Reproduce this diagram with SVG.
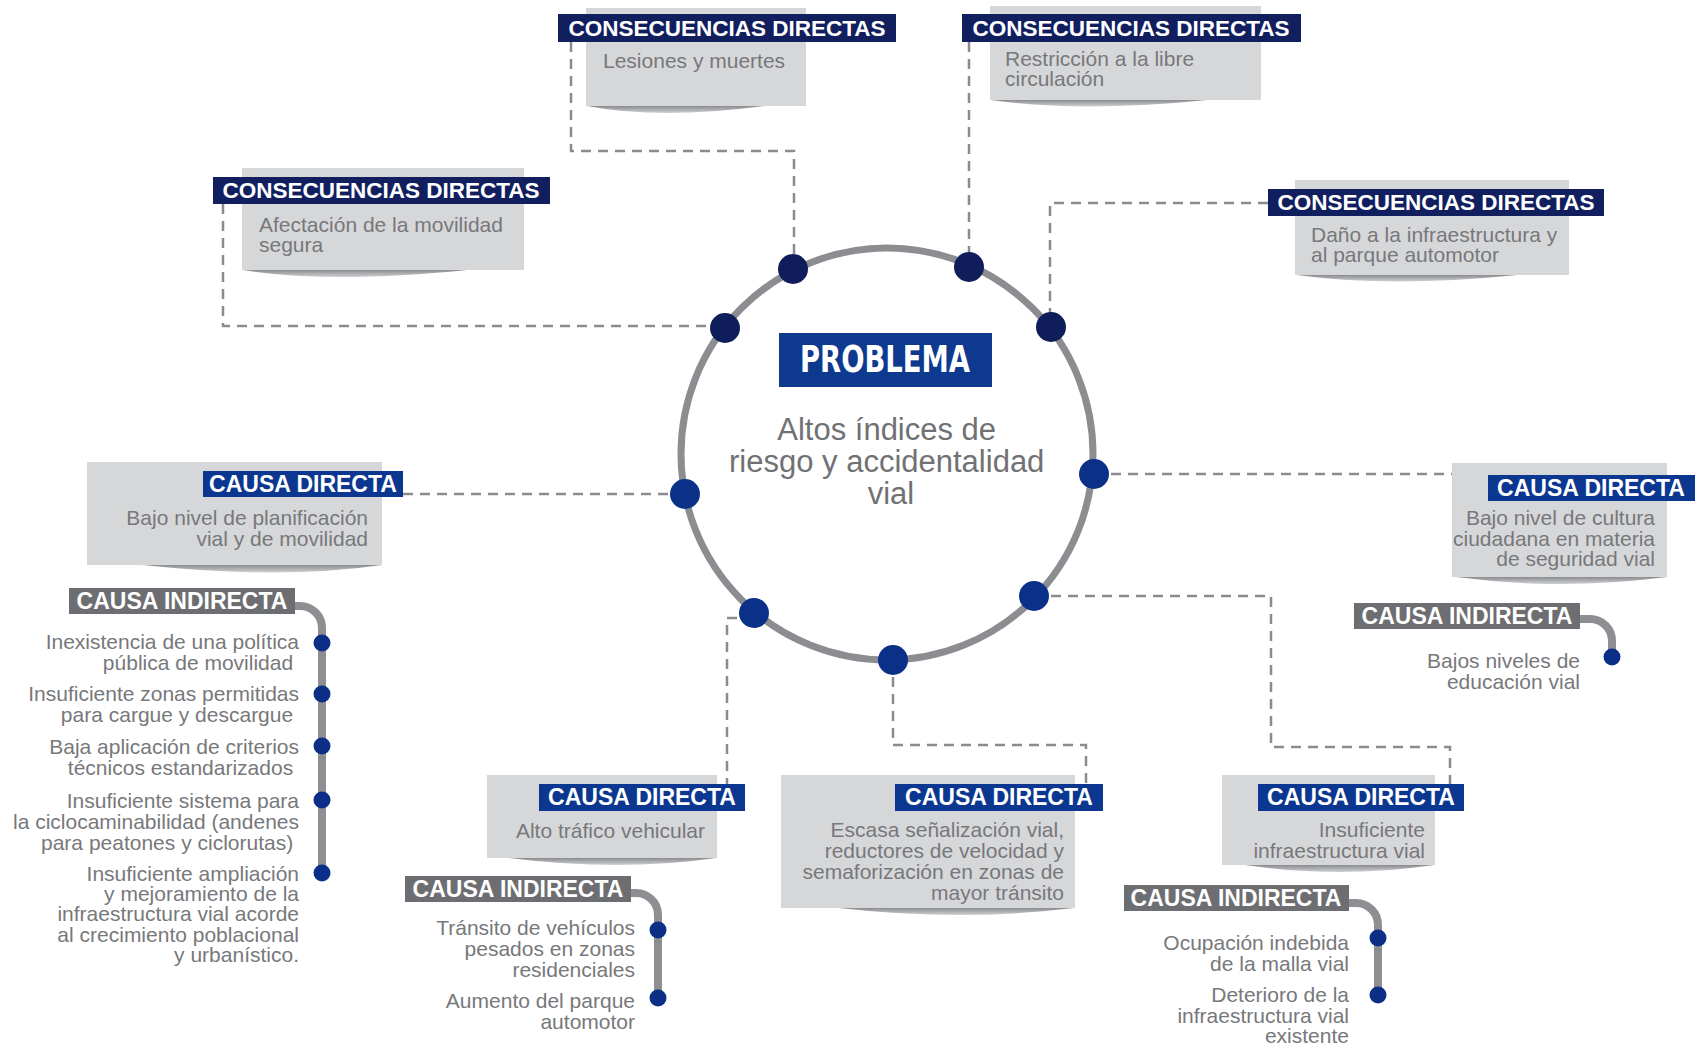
<svg xmlns="http://www.w3.org/2000/svg" width="1697" height="1045" viewBox="0 0 1697 1045">
<defs>
<linearGradient id="sh" x1="0" y1="0" x2="0" y2="1"><stop offset="0" stop-color="#8b8c8f"/><stop offset="1" stop-color="#cfd0d2"/></linearGradient>
<style>
.box{fill:#d6d7d9}
.shd{fill:url(#sh)}
.ln{fill:#121f5f}
.lb{fill:#0b3790}
.lg{fill:#6d6e71}
.lt{font-family:"Liberation Sans",Arial,sans-serif;font-weight:bold;font-size:23px;fill:#fff;text-anchor:middle}
.lc{font-size:22.5px}
.bt{font-family:"Liberation Sans",Arial,sans-serif;font-size:21px;fill:#77787b}
.r{text-anchor:end}
.conn{fill:none;stroke:#8a8b8e;stroke-width:2.5;stroke-dasharray:10 7}
.rail{fill:none;stroke:#8e8f92;stroke-width:8}
.dn{fill:#0f1d5a}
.db{fill:#0b3088}
.sd{fill:#0b2f87}
</style>
</defs>
<rect width="1697" height="1045" fill="#ffffff"/>

<g id="connectors">
<path class="conn" d="M571 42 V151 H794 V269"/>
<path class="conn" d="M969 42 V267"/>
<path class="conn" d="M1268 203 H1050 V327"/>
<path class="conn" d="M223 204 V326 H725"/>
<path class="conn" d="M403 494 H685"/>
<path class="conn" d="M1094 474 H1452"/>
<path class="conn" d="M1034 596 H1271 V747 H1450 V784"/>
<path class="conn" d="M754 618 H727 V784"/>
<path class="conn" d="M893 660 V745 H1086 V784"/>
</g>

<g id="problema">
<circle cx="887" cy="454" r="206" fill="none" stroke="#8c8d90" stroke-width="7"/>
<rect x="779" y="333" width="213" height="54" fill="#0d3a8f"/>
<text x="885" y="372" font-family="'Liberation Sans Narrow','DejaVu Sans Condensed','Liberation Sans',sans-serif" font-weight="bold" font-size="37" fill="#fff" text-anchor="middle" textLength="170" lengthAdjust="spacingAndGlyphs">PROBLEMA</text>
<text font-family="'Liberation Sans',Arial,sans-serif" font-size="31" fill="#707174" text-anchor="middle">
<tspan x="891" y="440">Altos índices de</tspan>
<tspan x="891" y="472">riesgo y accidentalidad</tspan>
<tspan x="891" y="504">vial</tspan>
</text>
<circle class="dn" cx="793" cy="269" r="15"/>
<circle class="dn" cx="969" cy="267" r="15"/>
<circle class="dn" cx="1051" cy="327" r="15"/>
<circle class="dn" cx="725" cy="328" r="15"/>
<circle class="db" cx="685" cy="494" r="15"/>
<circle class="db" cx="1094" cy="474" r="15"/>
<circle class="db" cx="1034" cy="596" r="15"/>
<circle class="db" cx="754" cy="613" r="15"/>
<circle class="db" cx="893" cy="660" r="15"/>
</g>

<g id="cons-lesiones">
<rect class="box" x="586" y="8" width="220" height="98"/>
<path class="shd" d="M587 106 Q660 120 764 106 Z"/>
<rect class="ln" x="558" y="14" width="338" height="28"/>
<text class="lt lc" x="727" y="36">CONSECUENCIAS DIRECTAS</text>
<text class="bt" x="603" y="68">Lesiones y muertes</text>
</g>

<g id="cons-restriccion">
<rect class="box" x="990" y="6" width="271" height="94"/>
<path class="shd" d="M991 100 Q1080 113 1207 100 Z"/>
<rect class="ln" x="962" y="14" width="339" height="28"/>
<text class="lt lc" x="1131" y="36">CONSECUENCIAS DIRECTAS</text>
<text class="bt"><tspan x="1005" y="66">Restricción a la libre</tspan><tspan x="1005" y="86">circulación</tspan></text>
</g>

<g id="cons-afectacion">
<rect class="box" x="242" y="168" width="282" height="102"/>
<path class="shd" d="M243 270 Q330 284 467 270 Z"/>
<rect class="ln" x="213" y="177" width="337" height="27"/>
<text class="lt lc" x="381" y="198">CONSECUENCIAS DIRECTAS</text>
<text class="bt"><tspan x="259" y="232">Afectación de la movilidad</tspan><tspan x="259" y="252">segura</tspan></text>
</g>

<g id="cons-dano">
<rect class="box" x="1295" y="180" width="274" height="95"/>
<path class="shd" d="M1297 275 Q1390 288 1517 275 Z"/>
<rect class="ln" x="1268" y="189" width="336" height="27"/>
<text class="lt lc" x="1436" y="210">CONSECUENCIAS DIRECTAS</text>
<text class="bt"><tspan x="1311" y="242">Daño a la infraestructura y</tspan><tspan x="1311" y="262">al parque automotor</tspan></text>
</g>

<g id="causa-planificacion">
<rect class="box" x="87" y="462" width="295" height="103"/>
<path class="shd" d="M143 565 Q280 580 382 565 Z"/>
<rect class="lb" x="203" y="471" width="200" height="26"/>
<text class="lt" x="303" y="492">CAUSA DIRECTA</text>
<text class="bt r"><tspan x="368" y="525">Bajo nivel de planificación</tspan><tspan x="368" y="546">vial y de movilidad</tspan></text>
</g>

<g id="causa-cultura">
<rect class="box" x="1452" y="463" width="215" height="114"/>
<path class="shd" d="M1456 577 Q1560 591 1667 577 Z"/>
<rect class="lb" x="1488" y="475" width="207" height="26"/>
<text class="lt" x="1591" y="496">CAUSA DIRECTA</text>
<text class="bt r"><tspan x="1655" y="525">Bajo nivel de cultura</tspan><tspan x="1655" y="546">ciudadana en materia</tspan><tspan x="1655" y="566">de seguridad vial</tspan></text>
</g>

<g id="causa-trafico">
<rect class="box" x="487" y="775" width="230" height="83"/>
<path class="shd" d="M509 858 Q620 872 716 858 Z"/>
<rect class="lb" x="539" y="784" width="206" height="27"/>
<text class="lt" x="642" y="805">CAUSA DIRECTA</text>
<text class="bt r" x="705" y="838">Alto tráfico vehicular</text>
</g>

<g id="causa-senalizacion">
<rect class="box" x="781" y="775" width="294" height="133"/>
<path class="shd" d="M839 908 Q960 922 1074 908 Z"/>
<rect class="lb" x="895" y="784" width="208" height="27"/>
<text class="lt" x="999" y="805">CAUSA DIRECTA</text>
<text class="bt r"><tspan x="1064" y="837">Escasa señalización vial,</tspan><tspan x="1064" y="858">reductores de velocidad y</tspan><tspan x="1064" y="879">semaforización en zonas de</tspan><tspan x="1064" y="900">mayor tránsito</tspan></text>
</g>

<g id="causa-infraestructura">
<rect class="box" x="1222" y="775" width="213" height="90"/>
<path class="shd" d="M1245 865 Q1340 879 1434 865 Z"/>
<rect class="lb" x="1258" y="784" width="206" height="27"/>
<text class="lt" x="1361" y="805">CAUSA DIRECTA</text>
<text class="bt r"><tspan x="1425" y="837">Insuficiente</tspan><tspan x="1425" y="858">infraestructura vial</tspan></text>
</g>

<g id="indirecta-planificacion">
<path class="rail" d="M293 606 H300 A22 22 0 0 1 322 628 V873"/>
<rect class="lg" x="69" y="588" width="226" height="26"/>
<text class="lt" x="182" y="609">CAUSA INDIRECTA</text>
<circle class="sd" cx="322" cy="643" r="8.5"/>
<circle class="sd" cx="322" cy="694" r="8.5"/>
<circle class="sd" cx="322" cy="746" r="8.5"/>
<circle class="sd" cx="322" cy="800" r="8.5"/>
<circle class="sd" cx="322" cy="873" r="8.5"/>
<text class="bt r">
<tspan x="299" y="649">Inexistencia de una política</tspan><tspan x="299" y="670">pública de movilidad</tspan>
<tspan x="299" y="701">Insuficiente zonas permitidas</tspan><tspan x="299" y="722">para cargue y descargue</tspan>
<tspan x="299" y="754">Baja aplicación de criterios</tspan><tspan x="299" y="775">técnicos estandarizados</tspan>
<tspan x="299" y="808">Insuficiente sistema para</tspan><tspan x="299" y="829">la ciclocaminabilidad (andenes</tspan><tspan x="299" y="850">para peatones y ciclorutas)</tspan>
<tspan x="299" y="881">Insuficiente ampliación</tspan><tspan x="299" y="901">y mejoramiento de la</tspan><tspan x="299" y="921">infraestructura vial acorde</tspan><tspan x="299" y="942">al crecimiento poblacional</tspan><tspan x="299" y="962">y urbanístico.</tspan>
</text>
</g>

<g id="indirecta-cultura">
<path class="rail" d="M1578 619 H1590 A22 22 0 0 1 1612 641 V657"/>
<rect class="lg" x="1354" y="603" width="226" height="26"/>
<text class="lt" x="1467" y="624">CAUSA INDIRECTA</text>
<circle class="sd" cx="1612" cy="657" r="8.5"/>
<text class="bt r"><tspan x="1580" y="668">Bajos niveles de</tspan><tspan x="1580" y="689">educación vial</tspan></text>
</g>

<g id="indirecta-trafico">
<path class="rail" d="M629 893 H636 A22 22 0 0 1 658 915 V998"/>
<rect class="lg" x="405" y="876" width="226" height="26"/>
<text class="lt" x="518" y="897">CAUSA INDIRECTA</text>
<circle class="sd" cx="658" cy="930" r="8.5"/>
<circle class="sd" cx="658" cy="998" r="8.5"/>
<text class="bt r"><tspan x="635" y="935">Tránsito de vehículos</tspan><tspan x="635" y="956">pesados en zonas</tspan><tspan x="635" y="977">residenciales</tspan><tspan x="635" y="1008">Aumento del parque</tspan><tspan x="635" y="1029">automotor</tspan></text>
</g>

<g id="indirecta-infraestructura">
<path class="rail" d="M1347 903 H1356 A22 22 0 0 1 1378 925 V995"/>
<rect class="lg" x="1124" y="885" width="225" height="26"/>
<text class="lt" x="1236" y="906">CAUSA INDIRECTA</text>
<circle class="sd" cx="1378" cy="938" r="8.5"/>
<circle class="sd" cx="1378" cy="995" r="8.5"/>
<text class="bt r"><tspan x="1349" y="950">Ocupación indebida</tspan><tspan x="1349" y="971">de la malla vial</tspan><tspan x="1349" y="1002">Deterioro de la</tspan><tspan x="1349" y="1023">infraestructura vial</tspan><tspan x="1349" y="1043">existente</tspan></text>
</g>
</svg>
